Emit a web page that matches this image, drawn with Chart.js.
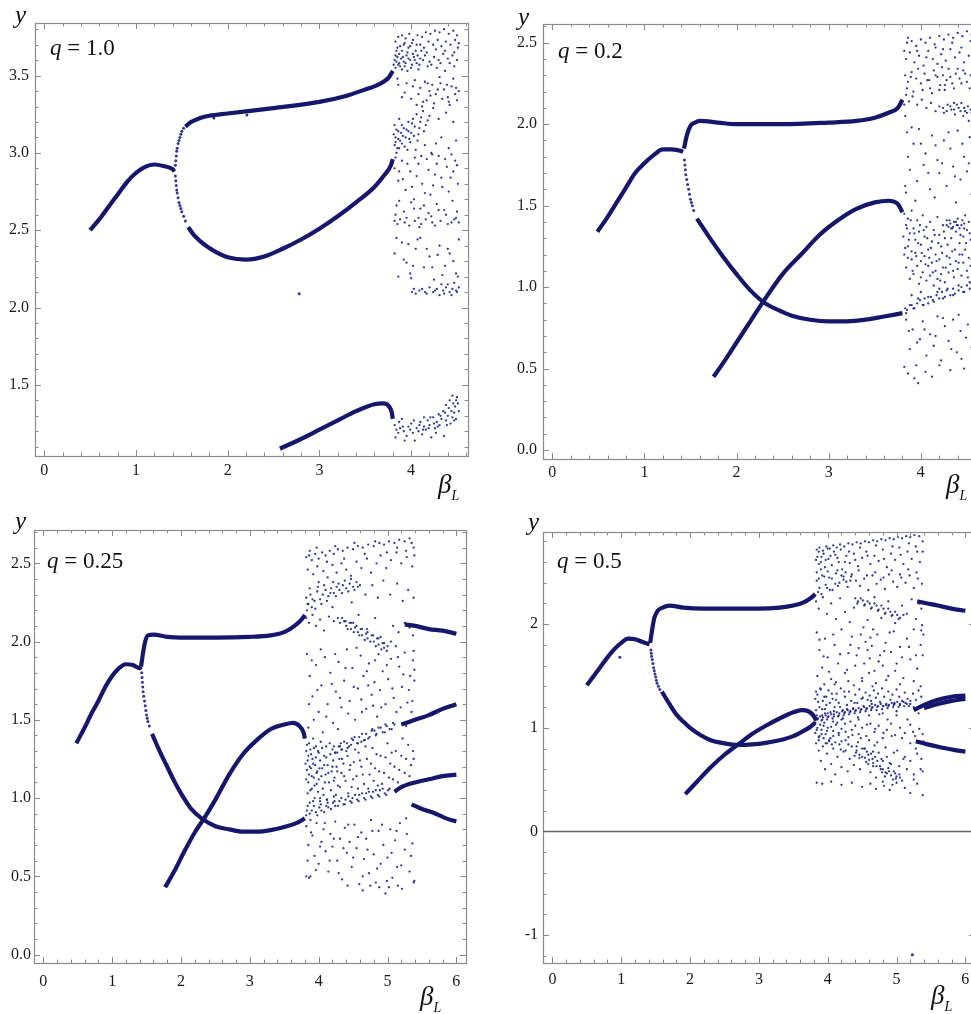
<!DOCTYPE html>
<html>
<head>
<meta charset="utf-8">
<script src="https://cdn.jsdelivr.net/npm/chart.js@4.4.1/dist/chart.umd.min.js"></script>
<style>
  body { margin: 0; width: 971px; height: 1014px; overflow: hidden; background: #fff; position: relative; }
  canvas { position: absolute; }
  .lbl { position: absolute; font-family: 'Liberation Serif', serif; color: #111; white-space: nowrap; line-height: 1; }
  .ax { font-style: italic; font-size: 25px; }
  .beta { font-style: italic; font-size: 27px; }
  .beta sub { font-size: 14px; position: relative; top: 1px; }
  .q { font-size: 23px; }
  .q i { font-style: italic; }
</style>
</head>
<body>
<canvas id="c1" width="490" height="500" style="left:0;top:0"></canvas>
<canvas id="c2" width="480" height="500" style="left:505px;top:0"></canvas>
<canvas id="c3" width="490" height="509" style="left:0;top:505px"></canvas>
<canvas id="c4" width="480" height="509" style="left:505px;top:505px"></canvas>

<div class="lbl ax" style="left:15px;top:2px">y</div>
<div class="lbl ax" style="left:518px;top:4px">y</div>
<div class="lbl ax" style="left:15px;top:508px">y</div>
<div class="lbl ax" style="left:528px;top:509px">y</div>

<div class="lbl beta" style="left:438px;top:471px">β<sub>L</sub></div>
<div class="lbl beta" style="left:946px;top:471px">β<sub>L</sub></div>
<div class="lbl beta" style="left:420px;top:983px">β<sub>L</sub></div>
<div class="lbl beta" style="left:931px;top:982px">β<sub>L</sub></div>

<div class="lbl q" style="left:50px;top:36px"><i>q</i> = 1.0</div>
<div class="lbl q" style="left:558px;top:39px"><i>q</i> = 0.2</div>
<div class="lbl q" style="left:47px;top:549px"><i>q</i> = 0.25</div>
<div class="lbl q" style="left:557px;top:549px"><i>q</i> = 0.5</div>

<script>
// ---------- q = 1.0 ----------
const q1Branch = [[0.5,2.5],[0.6,2.57],[0.7,2.65],[0.8,2.73],[0.9,2.81],[1.0,2.87],[1.1,2.91],[1.2,2.925],[1.3,2.915],[1.4,2.895],[1.42,2.88]];
const q1Upper = [[1.54,3.17],[1.6,3.2],[1.7,3.225],[1.8,3.24],[2.0,3.255],[2.5,3.29],[3.0,3.33],[3.3,3.37],[3.5,3.41],[3.6,3.43],[3.7,3.46],[3.76,3.49],[3.8,3.53]];
const q1Lower = [[1.57,2.52],[1.63,2.47],[1.7,2.43],[1.8,2.385],[1.9,2.35],[2.0,2.325],[2.2,2.31],[2.4,2.33],[2.6,2.38],[2.8,2.44],[3.0,2.51],[3.2,2.59],[3.4,2.68],[3.6,2.78],[3.7,2.85],[3.78,2.92],[3.8,2.96]];
const q1Bottom = [[2.57,1.087],[2.8,1.15],[3.0,1.21],[3.2,1.27],[3.4,1.33],[3.6,1.375],[3.7,1.38],[3.76,1.36],[3.79,1.32],[3.8,1.28]];
const q1Dots = [[1.43,2.92],[1.435,2.95],[1.44,2.98],[1.445,3.01],[1.45,3.03],[1.46,3.06],[1.47,3.08],[1.48,3.1],[1.49,3.12],[1.5,3.14],[1.52,3.16],
  [1.43,2.85],[1.435,2.82],[1.44,2.79],[1.445,2.76],[1.45,2.74],[1.46,2.71],[1.47,2.68],[1.48,2.66],[1.49,2.64],[1.5,2.62],[1.52,2.59],[1.54,2.56],
  [1.85,3.225],[2.21,3.245],[2.78,2.09]];
const q1Cloud = [[3.83,3.72],[3.86,3.75],[3.9,3.76],[3.94,3.74],[3.98,3.77],[4.02,3.73],[4.07,3.76],[4.12,3.75],[4.16,3.78],[4.21,3.77],[4.26,3.79],[4.31,3.78],[4.36,3.8],[4.41,3.77],[4.46,3.79],[4.5,3.76],
  [3.84,3.66],[3.88,3.69],[3.92,3.7],[3.97,3.68],[4.01,3.71],[4.05,3.66],[4.1,3.7],[4.14,3.68],[4.19,3.72],[4.24,3.7],[4.29,3.73],[4.33,3.69],[4.38,3.72],[4.43,3.7],[4.48,3.73],[4.51,3.68],
  [3.82,3.6],[3.85,3.62],[3.87,3.58],[3.89,3.61],[3.92,3.59],[3.95,3.63],[3.99,3.6],[4.03,3.62],[4.06,3.58],[4.1,3.61],[4.15,3.63],[4.2,3.59],[4.25,3.62],[4.3,3.6],[4.35,3.64],[4.4,3.61],[4.45,3.63],[4.5,3.6],
  [3.83,3.55],[3.86,3.57],[3.9,3.54],[3.93,3.56],[3.96,3.53],[4.0,3.55],[4.08,3.54],[4.18,3.56],[4.28,3.55],[4.37,3.53],[4.47,3.56],
  [3.85,3.48],[3.95,3.45],[4.04,3.47],[4.1,3.42],[4.15,3.46],[4.2,3.4],[4.23,3.44],[4.27,3.38],[4.32,3.45],[4.36,3.41],[4.4,3.36],[4.44,3.43],[4.48,3.38],[4.52,3.4],[3.9,3.36],[4.0,3.35],[4.13,3.33],[4.25,3.32],[4.34,3.35],[4.42,3.31],[4.5,3.34],
  [3.82,3.05],[3.83,3.1],[3.85,3.03],[3.86,3.14],[3.88,3.08],[3.9,3.18],[3.91,3.11],[3.93,3.04],[3.95,3.15],[3.97,3.2],[3.98,3.09],[4.0,3.13],[4.02,3.22],[4.04,3.17],[4.06,3.25],[4.08,3.12],[4.1,3.2],[4.13,3.27],[4.16,3.18],[4.2,3.24],[4.24,3.29],[4.3,3.22],[4.38,3.26],[4.46,3.2],[3.84,3.0],[3.87,3.22],[4.05,3.02],[4.27,3.06],[4.33,3.1],[4.41,3.03],[4.49,3.08],[4.22,3.0],[4.15,3.05],
  [3.82,2.9],[3.86,2.82],[3.9,2.95],[3.94,2.76],[3.99,2.88],[4.03,2.7],[4.08,2.93],[4.12,2.8],[4.17,2.96],[4.21,2.73],[4.26,2.86],[4.3,2.98],[4.34,2.78],[4.39,2.91],[4.43,2.84],[4.48,2.95],[4.51,2.8],[3.84,2.66],[3.92,2.62],[4.0,2.68],[4.1,2.64],[4.19,2.61],[4.28,2.67],[4.36,2.63],[4.45,2.69],[4.5,2.62],
  [3.82,2.56],[3.85,2.54],[3.88,2.57],[3.93,2.55],[3.98,2.53],[4.04,2.56],[4.11,2.54],[4.16,2.57],[4.23,2.55],[4.32,2.56],[4.4,2.54],[4.47,2.57],[4.52,2.55],
  [3.82,2.35],[3.86,2.2],[3.9,2.42],[3.95,2.29],[3.99,2.22],[4.05,2.38],[4.1,2.45],[4.14,2.26],[4.2,2.33],[4.25,2.18],[4.31,2.4],[4.37,2.27],[4.42,2.35],[4.49,2.22],[4.52,2.44],[4.0,2.19],
  [4.01,2.1],[4.05,2.09],[4.12,2.12],[4.17,2.09],[4.2,2.13],[4.24,2.1],[4.28,2.12],[4.31,2.08],[4.35,2.11],[4.38,2.13],[4.42,2.1],[4.45,2.12],[4.49,2.11],[4.52,2.13],[4.47,2.16],[4.33,2.15]];
const q1CloudB = [[3.81,3.57],[3.83,3.63],[3.84,3.59],[3.85,3.68],[3.87,3.64],[3.88,3.56],[3.9,3.66],[3.91,3.62],[3.93,3.71],[3.94,3.58],[3.96,3.65],[3.97,3.61],[3.99,3.69],[4.01,3.57],[4.02,3.64],[4.04,3.6],[4.06,3.7],[4.07,3.63],[4.09,3.57],[4.11,3.66],[4.13,3.6],[4.17,3.65],[4.22,3.57],[4.27,3.67],[4.32,3.58],[4.37,3.66],[4.42,3.58],[4.47,3.65],[4.52,3.71],
  [3.81,3.12],[3.82,3.18],[3.83,3.07],[3.84,3.15],[3.86,3.09],[3.87,3.03],[3.89,3.13],[3.9,3.06],[3.92,3.16],[3.94,3.1],[3.96,3.02],[3.97,3.14],[3.99,3.07],[4.01,3.19],[4.03,3.11],[4.07,3.08],[4.09,3.16],[4.11,3.23],[4.14,3.14],[4.18,3.21],[4.12,3.3],[4.17,3.34],
  [3.83,2.97],[3.87,2.88],[3.91,2.83],[3.96,2.93],[4.01,2.78],[4.06,2.85],[4.11,2.98],[4.15,2.74],[4.19,2.89],[4.24,2.79],[4.28,2.93],[4.33,2.84],[4.37,2.96],[4.41,2.75],[4.46,2.88],[4.5,2.92],[4.44,2.99],[4.23,2.99],[4.04,2.97],
  [3.83,2.6],[3.87,2.69],[3.95,2.58],[4.03,2.64],[4.08,2.58],[4.14,2.66],[4.22,2.59],[4.3,2.63],[4.38,2.6],[4.44,2.55],[4.49,2.58],[4.26,2.53],[4.09,2.52],
  [3.84,2.45],[3.92,2.31],[4.02,2.27],[4.07,2.44],[4.17,2.38],[4.23,2.26],[4.29,2.34],[4.34,2.21],[4.4,2.38],[4.46,2.3],[4.51,2.2],[3.97,2.41],
  [4.03,2.12],[4.09,2.11],[4.15,2.1],[4.26,2.11],[4.36,2.09],[4.4,2.15],[4.44,2.08],[4.5,2.1],
  [3.86,3.44],[3.93,3.39],[4.02,3.43],[4.08,3.38],[4.18,3.45],[4.21,3.37],[4.29,3.41],[4.31,3.49],[4.39,3.44],[4.46,3.48],[4.49,3.42],[4.41,3.33],[4.06,3.31]];
const q1CloudLow = [[3.82,1.24],[3.83,1.16],[3.86,1.19],[3.88,1.22],[3.9,1.28],[3.92,1.2],[3.95,1.17],[3.97,1.23],[4.0,1.25],[4.02,1.19],[4.04,1.14],[4.06,1.22],[4.08,1.2],[4.1,1.26],[4.12,1.18],[4.14,1.23],[4.16,1.21],[4.18,1.27],[4.2,1.24],[4.22,1.16],[4.24,1.29],[4.26,1.22],[4.28,1.26],[4.3,1.31],[4.31,1.24],[4.33,1.28],[4.35,1.33],[4.36,1.17],[4.38,1.27],[4.4,1.3],[4.41,1.35],[4.43,1.25],[4.45,1.29],[4.46,1.38],[4.47,1.32],[4.48,1.36],[4.49,1.28],[4.5,1.42],[4.45,1.43],[4.42,1.4],[4.38,1.37],[4.27,1.19],[4.14,1.29],[3.93,1.14],[4.52,1.33],
  [3.84,1.21],[3.87,1.26],[3.91,1.23],[3.99,1.21],[4.03,1.27],[4.09,1.24],[4.13,1.21],[4.19,1.22],[4.21,1.29],[4.25,1.25],[4.29,1.23],[4.32,1.3],[4.37,1.32],[4.39,1.24],[4.44,1.33],[4.47,1.27],[4.51,1.38],[4.49,1.4]];

// ---------- q = 0.2 ----------
const q2Branch = [[0.49,1.34],[0.6,1.43],[0.7,1.52],[0.8,1.61],[0.9,1.7],[1.0,1.76],[1.1,1.81],[1.2,1.845],[1.3,1.845],[1.4,1.835],[1.42,1.83]];
const q2Upper = [[1.43,1.85],[1.46,1.93],[1.5,1.99],[1.55,2.01],[1.6,2.02],[1.8,2.01],[2.0,2.0],[2.5,2.0],[3.0,2.01],[3.3,2.02],[3.5,2.04],[3.65,2.07],[3.75,2.1],[3.8,2.15]];
const q2Lower = [[1.57,1.42],[1.7,1.31],[1.85,1.19],[2.0,1.08],[2.15,0.98],[2.3,0.905],[2.45,0.86],[2.6,0.825],[2.8,0.8],[3.0,0.79],[3.2,0.79],[3.4,0.8],[3.6,0.82],[3.8,0.84]];
const q2Cross = [[1.75,0.45],[1.85,0.53],[2.0,0.66],[2.15,0.79],[2.3,0.92],[2.5,1.08],[2.7,1.2],[2.9,1.32],[3.1,1.41],[3.3,1.48],[3.5,1.52],[3.65,1.53],[3.75,1.51],[3.8,1.46]];
const q2Dots = [[1.435,1.78],[1.44,1.75],[1.445,1.72],[1.45,1.69],[1.46,1.66],[1.47,1.63],[1.48,1.6],[1.49,1.57],[1.5,1.54],[1.51,1.52],[1.52,1.5],[1.535,1.47]];
const q2Cloud = [[3.85,2.5],[3.9,2.51],[3.95,2.48],[4.0,2.52],[4.05,2.5],[4.1,2.53],[4.15,2.49],[4.2,2.54],[4.25,2.52],[4.3,2.55],[4.35,2.53],[4.4,2.56],[4.45,2.54],[4.5,2.57],[4.55,2.55],
  [3.84,2.4],[3.88,2.44],[3.93,2.38],[3.98,2.42],[4.03,2.36],[4.08,2.45],[4.13,2.4],[4.18,2.37],[4.22,2.43],[4.27,2.39],[4.32,2.46],[4.37,2.41],[4.42,2.44],[4.47,2.38],[4.52,2.42],[4.56,2.47],
  [3.83,2.3],[3.86,2.26],[3.9,2.32],[3.95,2.28],[4.0,2.25],[4.04,2.31],[4.09,2.27],[4.14,2.33],[4.18,2.29],[4.21,2.24],[4.24,2.3],[4.28,2.27],[4.3,2.34],[4.34,2.25],[4.38,2.31],[4.42,2.28],[4.46,2.33],[4.5,2.26],[4.54,2.3],[4.1,2.22],[4.26,2.21],
  [3.84,2.18],[3.87,2.14],[3.91,2.17],[3.96,2.12],[4.01,2.15],[4.06,2.1],[4.11,2.13],[4.16,2.08],[4.2,2.11],[4.25,2.07],[4.29,2.12],[4.33,2.09],[4.37,2.06],[4.41,2.1],[4.44,2.13],[4.48,2.08],[4.51,2.11],[4.55,2.07],[4.36,2.13],[4.46,2.05],[4.52,2.02],
  [3.85,1.95],[3.92,1.88],[3.98,1.97],[4.05,1.82],[4.12,1.93],[4.18,1.78],[4.25,1.9],[4.32,1.85],[4.4,1.96],[4.47,1.8],[4.53,1.92],[3.88,1.72],[3.96,1.65],[4.03,1.75],[4.1,1.6],[4.2,1.7],[4.28,1.62],[4.35,1.74],[4.43,1.66],[4.5,1.71],[3.84,1.58],[3.94,1.53],[4.15,1.55],[4.38,1.52],[4.55,1.57],[3.83,1.62],
  [3.82,1.45],[3.84,1.38],[3.86,1.42],[3.88,1.33],[3.9,1.47],[3.92,1.36],[3.94,1.29],[3.96,1.41],[3.98,1.34],[4.0,1.26],[4.02,1.44],[4.04,1.31],[4.06,1.37],[4.08,1.23],[4.1,1.4],[4.12,1.28],[4.14,1.35],[4.16,1.2],[4.18,1.43],[4.2,1.32],[4.22,1.25],[4.24,1.38],[4.26,1.3],[4.28,1.41],[4.3,1.37],[4.32,1.39],[4.34,1.36],[4.36,1.4],[4.38,1.34],[4.4,1.42],[4.42,1.27],[4.44,1.38],[4.46,1.31],[4.48,1.44],[4.5,1.35],[4.52,1.4],[4.54,1.29],[4.56,1.37],
  [3.82,1.2],[3.84,1.12],[3.86,1.25],[3.88,1.05],[3.9,1.17],[3.92,1.08],[3.94,1.21],[3.96,1.13],[3.98,1.02],[4.0,1.16],[4.02,1.09],[4.04,1.19],[4.06,1.04],[4.08,1.13],[4.1,1.07],[4.12,1.15],[4.14,1.01],[4.16,1.1],[4.18,1.05],[4.2,1.17],[4.22,1.08],[4.24,1.12],[4.26,1.03],[4.28,1.19],[4.3,1.09],[4.32,1.14],[4.34,1.22],[4.36,1.06],[4.38,1.16],[4.4,1.11],[4.42,1.2],[4.44,1.07],[4.46,1.15],[4.48,1.23],[4.5,1.1],[4.52,1.18],[4.54,1.13],[4.56,1.21],
  [3.83,0.87],[3.85,0.86],[3.9,0.89],[3.92,0.87],[3.96,0.9],[3.99,0.92],[4.02,0.89],[4.04,0.93],[4.08,0.9],[4.11,0.94],[4.13,0.92],[4.17,0.95],[4.2,0.93],[4.23,0.97],[4.26,0.94],[4.28,0.98],[4.32,0.95],[4.35,0.99],[4.37,0.96],[4.41,0.98],[4.44,1.0],[4.46,0.97],[4.5,1.01],[4.53,0.99],[4.55,1.02],
  [3.84,0.8],[3.88,0.62],[3.91,0.74],[3.95,0.52],[3.99,0.68],[4.02,0.79],[4.06,0.58],[4.1,0.71],[4.14,0.64],[4.18,0.82],[4.22,0.55],[4.26,0.76],[4.3,0.67],[4.35,0.8],[4.39,0.6],[4.43,0.73],[4.47,0.5],[4.51,0.77],[4.55,0.63],[3.82,0.51],[3.86,0.47],[3.93,0.44],[3.97,0.41],[4.05,0.48],[4.2,0.52],[4.32,0.49],[4.44,0.56],[4.12,0.45]];
const q2CloudB = [[3.81,1.31],[3.83,1.24],[3.85,1.36],[3.86,1.18],[3.87,1.29],[3.89,1.41],[3.9,1.22],[3.91,1.1],[3.93,1.33],[3.95,1.19],[3.97,1.27],[3.99,1.38],[4.0,1.06],[4.01,1.21],[4.03,1.35],[4.05,1.14],[4.07,1.3],[4.09,1.18],[4.11,1.24],[4.13,1.09],[4.15,1.32],[4.17,1.16],[4.19,1.27],[4.21,1.04],[4.23,1.21],[4.25,1.34],[4.27,1.12],[4.29,1.26],[4.31,1.18],[4.33,1.3],[4.35,1.1],[4.37,1.23],[4.39,1.38],[4.41,1.15],[4.43,1.32],[4.45,1.2],[4.47,1.36],[4.49,1.27],[4.51,1.06],[4.53,1.33],[4.55,1.17],[4.57,1.41],
  [4.28,1.38],[4.31,1.41],[4.35,1.37],[4.38,1.4],[4.4,1.38],[4.42,1.36],[4.45,1.41],[4.47,1.39],[4.33,1.36],
  [3.84,0.84],[3.88,0.89],[3.93,0.87],[3.97,0.93],[4.03,0.89],[4.08,0.94],[4.14,0.91],[4.18,0.97],[4.24,0.93],[4.29,0.99],[4.35,0.95],[4.41,1.01],[4.47,0.97],[4.53,1.03],[4.56,0.98],[3.9,0.95],[4.0,0.97],[4.2,0.99],
  [3.85,2.22],[3.89,2.29],[3.92,2.2],[3.97,2.34],[4.02,2.21],[4.07,2.27],[4.12,2.19],[4.16,2.3],[4.2,2.21],[4.23,2.35],[4.26,2.24],[4.32,2.29],[4.36,2.22],[4.4,2.34],[4.44,2.25],[4.48,2.31],[4.53,2.22],[4.56,2.35],
  [4.24,2.1],[4.28,2.08],[4.32,2.11],[4.36,2.09],[4.39,2.12],[4.43,2.08],[4.47,2.1],[4.5,2.07],[4.54,2.09],[4.57,2.11],
  [3.82,2.45],[3.86,2.53],[3.96,2.45],[4.06,2.41],[4.16,2.47],[4.24,2.46],[4.34,2.5],[4.44,2.47],[4.54,2.51],[3.82,2.12],[3.83,2.05],
  [3.86,1.8],[3.9,1.98],[4.0,1.88],[4.08,1.7],[4.16,1.87],[4.23,1.76],[4.3,1.95],[4.37,1.68],[4.45,1.88],[4.52,1.76],[4.56,1.84],
  [3.87,0.73],[3.96,0.66],[4.04,0.74],[4.16,0.7],[4.24,0.81],[4.33,0.62],[4.41,0.83],[4.49,0.69],[4.56,0.78]];

// ---------- q = 0.25 ----------
const q3Branch = [[0.48,1.35],[0.6,1.45],[0.7,1.54],[0.8,1.62],[0.9,1.71],[1.0,1.78],[1.1,1.83],[1.2,1.855],[1.3,1.85],[1.4,1.83],[1.42,1.84]];
const q3Upper = [[1.42,1.84],[1.45,1.93],[1.48,2.0],[1.52,2.04],[1.6,2.045],[1.8,2.03],[2.0,2.025],[2.5,2.025],[3.0,2.03],[3.3,2.04],[3.5,2.06],[3.65,2.1],[3.75,2.14],[3.8,2.17]];
const q3Lower = [[1.58,1.41],[1.7,1.29],[1.8,1.2],[1.9,1.11],[2.0,1.03],[2.15,0.93],[2.3,0.87],[2.5,0.82],[2.7,0.8],[2.9,0.785],[3.1,0.785],[3.3,0.795],[3.5,0.815],[3.7,0.845],[3.8,0.87]];
const q3Cross = [[1.77,0.43],[1.9,0.53],[2.05,0.66],[2.2,0.78],[2.35,0.88],[2.5,0.99],[2.7,1.15],[2.9,1.28],[3.1,1.37],[3.3,1.44],[3.5,1.47],[3.63,1.48],[3.72,1.46],[3.78,1.42],[3.8,1.38]];
const q3Right1 = [[5.25,2.11],[5.4,2.1],[5.6,2.08],[5.8,2.07],[6.0,2.05]];
const q3Right2 = [[5.2,1.47],[5.4,1.5],[5.6,1.53],[5.8,1.57],[6.0,1.6]];
const q3Right3 = [[5.1,1.04],[5.2,1.07],[5.4,1.1],[5.6,1.12],[5.8,1.14],[6.0,1.15]];
const q3Right4 = [[5.35,0.96],[5.5,0.93],[5.7,0.9],[5.85,0.87],[6.0,0.85]];
const q3Dots = [[1.43,1.8],[1.435,1.77],[1.44,1.74],[1.445,1.71],[1.45,1.68],[1.46,1.65],[1.47,1.62],[1.48,1.59],[1.49,1.56],[1.5,1.53],[1.51,1.51],[1.52,1.49],[1.54,1.46]];
const q3Cloud = [[3.82,2.54],[3.86,2.55],[3.9,2.52],[3.95,2.56],[4.0,2.53],[4.05,2.57],[4.1,2.55],[4.16,2.58],[4.22,2.56],[4.28,2.59],[4.35,2.58],[4.42,2.6],[4.5,2.59],[4.57,2.61],[4.64,2.6],[4.72,2.62],[4.8,2.61],[4.88,2.63],[4.95,2.62],[5.02,2.64],[5.1,2.63],[5.17,2.65],[5.25,2.64],[5.32,2.66],[5.38,2.6],
  [3.84,2.46],[3.92,2.43],[3.98,2.48],[4.07,2.45],[4.13,2.41],[4.2,2.49],[4.26,2.44],[4.33,2.5],[4.4,2.46],[4.47,2.42],[4.55,2.51],[4.62,2.47],[4.7,2.53],[4.76,2.44],[4.84,2.5],[4.9,2.55],[4.98,2.47],[5.05,2.52],[5.13,2.57],[5.2,2.5],[5.28,2.54],[5.36,2.48],
  [3.82,2.28],[3.83,2.2],[3.85,2.24],[3.88,2.3],[3.9,2.22],[3.94,2.26],[3.98,2.32],[4.02,2.27],[4.06,2.3],[4.1,2.33],[4.14,2.29],[4.18,2.34],[4.22,2.31],[4.26,2.35],[4.3,2.33],[4.35,2.36],[4.4,2.34],[4.45,2.37],[4.5,2.35],[4.55,2.38],[4.6,2.36],[4.68,2.3],[4.78,2.36],[4.86,2.28],[4.94,2.39],[5.04,2.3],[5.14,2.37],[5.22,2.26],[5.3,2.33],[5.38,2.28],[4.0,2.38],[4.2,2.22],[4.48,2.25],
  [3.82,2.15],[3.86,2.12],[3.91,2.17],[3.96,2.1],[4.02,2.14],[4.08,2.07],[4.15,2.16],[4.22,2.13],[4.28,2.15],[4.31,2.12],[4.37,2.13],[4.4,2.1],[4.45,2.12],[4.47,2.08],[4.53,2.09],[4.57,2.06],[4.61,2.08],[4.63,2.04],[4.69,2.05],[4.71,2.02],[4.77,2.04],[4.8,2.0],[4.85,2.02],[4.87,1.98],[4.93,1.99],[4.95,1.96],[5.0,1.97],[4.5,2.12],[4.7,2.08],[4.9,2.03],[5.08,2.1],[5.16,2.06],[5.25,2.12],[5.32,2.09],[5.37,2.04],[4.58,2.17],[4.82,2.15],[5.05,2.0],
  [3.83,1.92],[3.87,1.78],[3.91,1.65],[3.96,1.85],[4.0,1.55],[4.04,1.72],[4.09,1.9],[4.13,1.6],[4.17,1.8],[4.21,1.48],[4.25,1.68],[4.29,1.87],[4.33,1.58],[4.37,1.75],[4.41,1.95],[4.45,1.62],[4.49,1.83],[4.53,1.5],[4.57,1.7],[4.61,1.91],[4.65,1.78],[4.69,1.57],[4.73,1.86],[4.77,1.66],[4.81,1.74],[4.85,1.52],[4.89,1.69],[4.93,1.81],[4.97,1.6],[5.01,1.76],[5.05,1.89],[5.09,1.64],[5.13,1.55],[5.17,1.84],[5.21,1.71],[5.25,1.93],[5.29,1.61],[5.33,1.78],[5.37,1.88],[5.39,1.82],[5.38,1.94],[5.39,1.75],[3.85,1.45],[3.93,1.5],[4.06,1.42],[4.28,1.44],[4.62,1.63],[4.72,1.72],[4.82,1.88],[5.12,1.97],[5.27,1.46],[5.35,1.55],
  [4.2,1.31],[4.24,1.29],[4.31,1.33],[4.34,1.31],[4.41,1.35],[4.44,1.33],[4.5,1.37],[4.56,1.35],[4.59,1.39],[4.66,1.37],[4.69,1.41],[4.74,1.39],[4.81,1.43],[4.84,1.41],[4.9,1.45],[4.96,1.42],[4.99,1.46],[5.06,1.44],[5.1,1.47],[4.32,1.35],[4.48,1.38],[4.62,1.36],[4.78,1.44],
  [3.82,1.3],[3.83,1.18],[3.84,1.24],[3.85,1.1],[3.86,1.35],[3.87,1.2],[3.88,1.05],[3.89,1.28],[3.9,1.14],[3.92,1.22],[3.93,1.32],[3.94,1.08],[3.96,1.26],[3.97,1.16],[3.99,1.3],[4.0,1.12],[4.02,1.24],[4.03,1.36],[4.05,1.19],[4.06,1.06],[4.08,1.27],[4.1,1.15],[4.11,1.33],[4.13,1.21],[4.15,1.1],[4.17,1.28],[4.19,1.17],[4.21,1.24],[4.23,1.13],[4.26,1.2],[4.28,1.08],[4.3,1.25],[4.33,1.16],[4.36,1.22],[4.39,1.11],[4.42,1.27],[4.45,1.18],[4.48,1.07],[4.51,1.23],[4.55,1.14],[4.58,1.29],[4.62,1.2],[4.66,1.09],[4.7,1.25],[4.74,1.15],[4.78,1.32],[4.82,1.19],[4.86,1.08],[4.9,1.27],[4.95,1.16],[5.0,1.35],[5.04,1.22],[5.08,1.12],[5.12,1.3],[5.17,1.18],[5.22,1.38],[5.27,1.25],[5.32,1.14],[5.37,1.3],[5.39,1.1],
  [3.82,0.89],[3.87,0.9],[3.9,0.92],[3.96,0.91],[4.01,0.94],[4.04,0.92],[4.11,0.95],[4.14,0.94],[4.21,0.97],[4.24,0.95],[4.3,0.98],[4.36,0.96],[4.39,0.99],[4.46,0.98],[4.49,1.0],[4.56,0.99],[4.59,1.02],[4.66,1.0],[4.69,1.03],[4.76,1.01],[4.79,1.04],[4.86,1.02],[4.89,1.05],[4.96,1.03],[5.01,1.05],[3.84,0.95],[3.92,0.98],[4.02,1.0],[4.12,0.99],[4.22,1.01],
  [3.82,0.82],[3.85,0.7],[3.88,0.5],[3.91,0.76],[3.94,0.63],[3.97,0.84],[4.0,0.58],[4.04,0.72],[4.07,0.8],[4.1,0.66],[4.14,0.53],[4.17,0.77],[4.2,0.69],[4.24,0.85],[4.27,0.6],[4.31,0.74],[4.34,0.48],[4.38,0.81],[4.41,0.65],[4.45,0.72],[4.48,0.56],[4.52,0.83],[4.55,0.68],[4.59,0.45],[4.62,0.78],[4.66,0.61],[4.69,0.74],[4.73,0.52],[4.76,0.86],[4.8,0.64],[4.83,0.46],[4.87,0.79],[4.9,0.58],[4.94,0.7],[4.97,0.39],[5.0,0.62],[5.04,0.8],[5.07,0.49],[5.11,0.73],[5.14,0.56],[5.18,0.84],[5.21,0.42],[5.25,0.67],[5.28,0.77],[5.32,0.53],[5.36,0.71],[5.39,0.47],[5.38,0.46],[4.42,0.44],[4.64,0.41],[4.88,0.43],[5.15,0.44],[3.82,0.5],[3.86,0.49]];
const q3CloudB = [[3.81,1.22],[3.82,1.12],[3.83,1.34],[3.84,1.03],[3.85,1.27],[3.86,1.15],[3.87,0.97],[3.88,1.31],[3.89,1.19],[3.9,1.06],[3.91,1.25],[3.92,1.38],[3.93,1.13],[3.94,1.0],[3.95,1.21],[3.96,1.33],[3.97,1.09],[3.98,1.17],[3.99,1.04],[4.0,1.29],[4.01,1.19],[4.02,0.98],[4.04,1.14],[4.05,1.32],[4.07,1.02],[4.08,1.21],[4.09,1.1],[4.11,1.26],[4.12,0.99],[4.14,1.16],[4.16,1.35],[4.18,1.05],[4.2,1.2],[4.22,1.11],[4.24,1.29],[4.25,1.02],[4.27,1.17],[4.29,1.33],[4.31,1.07],[4.34,1.25],[4.37,1.14],[4.4,1.3],[4.43,1.03],[4.46,1.21],[4.5,1.12],[4.53,1.31],[4.57,1.06],[4.6,1.24],[4.64,1.15],[4.68,1.33],[4.72,1.06],[4.76,1.22],[4.8,1.11],[4.84,1.28],[4.88,1.17],[4.92,1.09],[4.97,1.26],[5.02,1.13],[5.06,1.29],[5.1,1.2],[5.15,1.1],[5.2,1.27],[5.25,1.16],[5.3,1.34],[5.34,1.21],[5.38,1.25],
  [3.83,0.92],[3.88,0.86],[3.93,0.95],[3.98,0.89],[4.03,0.96],[4.08,0.91],[4.13,0.97],[4.18,0.93],[4.23,0.98],[4.28,0.95],[4.33,1.0],[4.38,0.96],[4.43,1.01],[4.48,0.97],[4.53,1.02],[4.58,0.98],[4.63,1.03],[4.68,0.99],[4.73,1.04],[4.78,1.0],[4.83,1.05],[4.88,1.01],[4.93,1.06],[4.98,1.02],[5.03,1.06],
  [4.22,1.33],[4.27,1.29],[4.33,1.31],[4.37,1.36],[4.42,1.32],[4.47,1.34],[4.52,1.39],[4.57,1.35],[4.63,1.41],[4.67,1.37],[4.72,1.38],[4.77,1.43],[4.83,1.4],[4.87,1.45],[4.93,1.42],[4.97,1.47],[5.03,1.44],[5.08,1.48],
  [3.84,2.24],[3.87,2.34],[3.91,2.27],[3.95,2.21],[3.99,2.35],[4.04,2.24],[4.08,2.36],[4.12,2.26],[4.17,2.31],[4.21,2.38],[4.25,2.29],[4.29,2.37],[4.34,2.31],[4.38,2.39],[4.43,2.32],[4.47,2.4],[4.52,2.33],[4.57,2.35],
  [4.34,2.15],[4.39,2.13],[4.42,2.08],[4.47,2.12],[4.51,2.06],[4.55,2.1],[4.59,2.04],[4.63,2.08],[4.67,2.01],[4.71,2.06],[4.75,2.0],[4.79,2.04],[4.83,1.97],[4.87,2.02],[4.91,1.95],[4.95,1.99],[4.99,1.94],
  [3.86,1.6],[3.9,1.88],[3.98,1.69],[4.03,1.95],[4.11,1.52],[4.19,1.73],[4.24,1.92],[4.31,1.64],[4.39,1.83],[4.43,1.54],[4.51,1.71],[4.55,1.96],[4.63,1.55],[4.7,1.81],[4.79,1.59],[4.87,1.92],[4.91,1.58],[4.99,1.85],[5.07,1.7],[5.15,1.9],[5.19,1.58],[5.23,1.79],[5.31,1.69],[5.36,1.62],
  [3.84,0.6],[3.89,0.78],[3.96,0.54],[4.02,0.69],[4.09,0.84],[4.16,0.6],[4.22,0.74],[4.29,0.52],[4.36,0.68],[4.43,0.83],[4.5,0.62],[4.57,0.75],[4.64,0.5],[4.71,0.67],[4.78,0.79],[4.85,0.55],[4.92,0.83],[4.99,0.47],[5.06,0.65],[5.13,0.79],[5.2,0.57],[5.27,0.87],[5.34,0.63],[5.02,0.43],[4.75,0.44],
  [3.87,2.58],[3.97,2.6],[4.12,2.51],[4.24,2.61],[4.37,2.53],[4.52,2.63],[4.67,2.56],[4.82,2.64],[4.99,2.57],[5.14,2.6],[5.27,2.58],[5.35,2.63],[5.39,2.55]];

// ---------- q = 0.5 ----------
const q4Branch = [[0.5,1.41],[0.6,1.5],[0.7,1.59],[0.8,1.68],[0.9,1.76],[1.0,1.82],[1.1,1.86],[1.2,1.855],[1.3,1.83],[1.41,1.805]];
const q4Upper = [[1.42,1.82],[1.45,1.95],[1.48,2.06],[1.53,2.13],[1.6,2.16],[1.7,2.18],[1.9,2.16],[2.2,2.15],[2.6,2.15],[3.0,2.15],[3.3,2.16],[3.5,2.18],[3.65,2.21],[3.75,2.25],[3.82,2.29]];
const q4Lower = [[1.59,1.35],[1.7,1.23],[1.8,1.13],[1.9,1.06],[2.0,1.0],[2.15,0.93],[2.3,0.88],[2.5,0.85],[2.7,0.835],[2.9,0.84],[3.1,0.855],[3.3,0.88],[3.5,0.92],[3.65,0.97],[3.75,1.01],[3.82,1.05]];
const q4Cross = [[1.93,0.36],[2.1,0.48],[2.3,0.62],[2.5,0.74],[2.7,0.84],[2.9,0.94],[3.1,1.02],[3.3,1.09],[3.5,1.15],[3.62,1.17],[3.72,1.16],[3.8,1.11],[3.83,1.07]];
const q4Right1 = [[5.3,2.22],[5.45,2.2],[5.6,2.18],[5.8,2.15],[6.0,2.13]];
const q4Right2 = [[5.25,1.17],[5.4,1.22],[5.6,1.27],[5.8,1.3],[6.0,1.31]];
const q4Right3 = [[5.4,1.19],[5.6,1.23],[5.8,1.26],[6.0,1.28]];
const q4Right4 = [[5.28,0.87],[5.45,0.84],[5.65,0.81],[5.85,0.785],[6.0,0.77]];
const q4Dots = [[1.43,1.75],[1.435,1.72],[1.44,1.69],[1.45,1.66],[1.46,1.62],[1.47,1.58],[1.48,1.55],[1.49,1.52],[1.5,1.49],[1.51,1.46],[1.52,1.43],[1.54,1.4],[1.56,1.37],[0.98,1.68],[5.23,-1.19]];
const q4Cloud = [[3.84,2.72],[3.88,2.74],[3.93,2.71],[3.98,2.75],[4.03,2.73],[4.08,2.76],[4.13,2.74],[4.18,2.77],[4.24,2.75],[4.3,2.78],[4.36,2.77],[4.42,2.79],[4.48,2.78],[4.54,2.8],[4.6,2.79],[4.66,2.81],[4.72,2.8],[4.78,2.82],[4.84,2.81],[4.9,2.83],[4.96,2.82],[5.02,2.84],[5.08,2.83],[5.14,2.85],[5.2,2.84],[5.26,2.86],[5.33,2.85],[5.38,2.8],
  [3.83,2.62],[3.87,2.58],[3.91,2.65],[3.96,2.55],[4.01,2.63],[4.06,2.57],[4.11,2.67],[4.16,2.6],[4.21,2.53],[4.27,2.66],[4.32,2.59],[4.38,2.68],[4.44,2.56],[4.5,2.64],[4.56,2.7],[4.62,2.58],[4.68,2.66],[4.74,2.61],[4.8,2.72],[4.86,2.55],[4.92,2.68],[4.98,2.62],[5.04,2.74],[5.1,2.58],[5.16,2.7],[5.22,2.63],[5.28,2.75],[5.34,2.6],[5.38,2.7],
  [3.84,2.42],[3.88,2.35],[3.92,2.47],[3.97,2.38],[4.02,2.45],[4.07,2.33],[4.12,2.49],[4.17,2.4],[4.23,2.46],[4.29,2.36],[4.35,2.48],[4.41,2.42],[4.47,2.37],[4.53,2.44],[4.59,2.33],[4.65,2.47],[4.71,2.39],[4.77,2.43],[4.83,2.34],[4.89,2.48],[4.95,2.41],[5.01,2.36],[5.07,2.45],[5.13,2.4],[5.19,2.47],[5.25,2.35],[5.31,2.44],[5.37,2.39],
  [3.86,2.31],[3.91,2.29],[3.99,2.35],[4.03,2.33],[4.11,2.39],[4.15,2.37],[4.23,2.43],[4.27,2.41],[4.34,2.46],
  [4.4,2.25],[4.44,2.22],[4.51,2.23],[4.54,2.19],[4.61,2.2],[4.64,2.16],[4.71,2.18],[4.74,2.14],[4.81,2.15],[4.84,2.11],[4.91,2.12],[4.94,2.09],[5.01,2.09],[5.05,2.06],
  [3.83,2.22],[3.87,2.15],[3.93,2.26],[3.99,2.1],[4.05,2.2],[4.12,2.05],[4.18,2.25],[4.25,2.12],[4.32,2.02],[4.38,2.16],[4.58,2.04],[4.68,2.26],[4.78,2.06],[4.88,2.22],[4.98,2.01],[5.08,2.18],[5.15,2.1],[5.22,2.24],[5.28,2.05],[5.33,2.2],[5.37,1.99],[5.36,2.15],
  [3.84,1.92],[3.88,1.75],[3.92,1.58],[3.96,1.86],[4.0,1.68],[4.05,1.47],[4.1,1.8],[4.15,1.62],[4.2,1.95],[4.25,1.53],[4.3,1.72],[4.35,1.88],[4.4,1.6],[4.45,1.77],[4.5,1.45],[4.55,1.83],[4.58,1.75],[4.61,1.67],[4.64,1.79],[4.68,1.55],[4.72,1.9],[4.76,1.7],[4.8,1.6],[4.84,1.82],[4.88,1.5],[4.92,1.73],[4.96,1.93],[5.0,1.62],[5.05,1.78],[5.1,1.48],[5.15,1.86],[5.2,1.66],[5.25,1.95],[5.3,1.57],[5.35,1.8],[5.38,1.7],[5.39,1.9],[3.85,1.5],[3.95,1.42],[4.12,1.44],[4.38,1.41],[4.7,1.43],[4.52,1.97],[4.62,1.87],
  [3.83,1.35],[3.86,1.25],[3.89,1.38],[3.92,1.18],[3.95,1.3],[3.98,1.22],[4.01,1.36],[4.04,1.15],[4.07,1.28],[4.1,1.2],[4.13,1.33],[4.16,1.24],[4.19,1.38],[4.22,1.17],[4.25,1.3],[4.28,1.22],[4.31,1.35],[4.34,1.26],[4.37,1.19],[4.4,1.32],[4.43,1.24],[4.46,1.37],[4.49,1.28],[4.52,1.21],[4.55,1.34],[4.58,1.27],[4.61,1.31],[4.64,1.23],[4.67,1.36],[4.7,1.29],[4.73,1.33],[4.76,1.25],[4.79,1.38],[4.82,1.3],[4.85,1.22],[4.88,1.35],[4.91,1.27],[4.94,1.32],[4.97,1.24],[5.0,1.37],[5.04,1.3],[5.08,1.26],[5.12,1.34],[5.16,1.28],[5.2,1.23],[5.24,1.33],[5.28,1.27],[5.32,1.36],[5.36,1.3],
  [3.82,1.05],[3.85,1.08],[3.91,1.07],[3.93,1.1],[3.99,1.08],[4.01,1.11],[4.07,1.09],[4.09,1.13],[4.15,1.11],[4.17,1.14],[4.23,1.12],[4.25,1.15],[4.31,1.13],[4.33,1.16],[4.39,1.14],[4.41,1.17],[4.47,1.15],[4.49,1.18],[4.55,1.16],[4.57,1.19],[4.63,1.17],[4.65,1.2],[4.71,1.17],[4.73,1.21],[4.79,1.18],[4.81,1.21],[4.87,1.19],[4.89,1.22],[4.95,1.2],[4.97,1.23],[5.03,1.2],[5.05,1.23],[5.11,1.21],[5.13,1.24],[5.18,1.21],[3.84,1.12],[3.96,1.14],[4.08,1.06],[4.2,1.08],[4.44,1.1],[4.6,1.12],[4.8,1.14],[5.0,1.16],
  [3.82,0.95],[3.85,1.0],[3.88,0.92],[3.91,0.98],[3.94,1.02],[3.97,0.94],[4.0,1.0],[4.04,0.9],[4.08,0.97],[4.12,1.03],[4.16,0.93],[4.2,0.99],[4.25,1.04],[4.3,0.91],[4.35,0.98],[4.4,1.02],[4.45,0.94],[4.5,1.0],[4.56,0.92],[4.62,1.04],[4.68,0.96],[4.74,1.02],[4.8,0.9],[4.86,0.98],[4.92,1.04],[4.98,0.93],[5.05,1.0],[5.12,0.95],[5.2,1.03],[5.27,0.92],[5.33,0.99],[5.38,0.94],
  [3.83,0.85],[3.87,0.78],[3.9,0.68],[3.93,0.82],[3.96,0.6],[3.99,0.75],[4.02,0.87],[4.05,0.65],[4.08,0.8],[4.11,0.55],[4.14,0.72],[4.17,0.84],[4.2,0.62],[4.23,0.77],[4.26,0.88],[4.29,0.58],[4.32,0.7],[4.35,0.82],[4.38,0.64],[4.41,0.76],[4.44,0.86],[4.47,0.6],[4.5,0.72],[4.53,0.8],[4.56,0.67],[4.59,0.74],[4.62,0.57],[4.65,0.7],[4.68,0.83],[4.71,0.63],[4.74,0.76],[4.77,0.6],[4.8,0.68],[4.83,0.53],[4.86,0.72],[4.89,0.58],[4.92,0.65],[4.95,0.5],[4.98,0.56],[5.01,0.78],[5.05,0.52],[5.1,0.7],[5.15,0.6],[5.2,0.85],[5.25,0.55],[5.3,0.75],[5.35,0.6],[5.38,0.58],
  [3.87,0.91],[3.99,0.85],[4.06,0.84],[4.19,0.79],[4.26,0.78],[4.39,0.73],[4.46,0.71],[4.59,0.65],[4.66,0.63],[4.79,0.57],[4.86,0.56],[4.99,0.51],
  [3.84,0.47],[3.92,0.46],[4.05,0.48],[4.2,0.45],[4.35,0.47],[4.5,0.43],[4.62,0.46],[4.7,0.41],[4.82,0.44],[4.9,0.4],[5.0,0.47],[5.12,0.42],[5.2,0.37],[5.3,0.46],[5.38,0.35],[5.25,0.5]];
const q4CloudB = [[3.82,1.28],[3.83,1.17],[3.84,0.98],[3.85,1.32],[3.86,1.09],[3.87,0.88],[3.88,1.2],[3.89,1.03],[3.9,1.37],[3.91,0.94],[3.92,1.12],[3.93,1.26],[3.94,0.9],[3.95,1.05],[3.96,1.18],[3.97,0.85],[3.98,1.3],[3.99,0.97],[4.0,1.14],[4.02,0.88],[4.03,1.24],[4.05,1.01],[4.06,1.33],[4.08,0.92],[4.09,1.16],[4.11,0.86],[4.12,1.27],[4.14,1.05],[4.16,0.95],[4.18,1.2],[4.2,0.87],[4.22,1.09],[4.24,1.35],[4.26,0.96],[4.28,1.18],[4.3,0.84],[4.33,1.06],[4.36,0.93],[4.39,1.24],[4.42,0.82],[4.45,1.08],[4.48,0.9],[4.51,1.29],[4.54,0.8],[4.57,1.03],[4.6,0.88],[4.63,1.26],[4.66,0.77],[4.69,0.99],[4.72,0.86],[4.75,1.13],[4.78,0.7],[4.81,0.95],[4.84,0.81],[4.87,1.08],[4.9,0.66],[4.93,0.92],[4.96,0.76],[5.0,1.12],[5.04,0.63],[5.08,0.9],[5.12,0.72],[5.16,1.08],[5.2,0.68],[5.24,0.96],[5.28,0.8],[5.32,1.14],[5.36,0.7],[5.39,0.87],
  [3.84,1.09],[3.89,1.11],[3.92,1.08],[3.97,1.12],[4.0,1.1],[4.05,1.13],[4.09,1.11],[4.13,1.15],[4.16,1.12],[4.21,1.16],[4.24,1.14],[4.29,1.17],[4.32,1.15],[4.37,1.18],[4.4,1.16],[4.45,1.19],[4.48,1.17],[4.53,1.2],[4.56,1.18],[4.61,1.21],[4.64,1.19],[4.69,1.22],[4.72,1.2],[4.77,1.23],[4.8,1.21],[4.85,1.23],[4.88,1.21],[4.93,1.24],[4.96,1.22],[5.01,1.25],[5.05,1.22],[5.1,1.25],[5.15,1.23],[5.2,1.26],[5.25,1.2],[5.3,1.19],
  [4.42,0.78],[4.46,0.74],[4.5,0.8],[4.54,0.71],[4.57,0.77],[4.6,0.69],[4.63,0.75],[4.66,0.66],[4.69,0.72],[4.72,0.68],[4.76,0.63],[4.8,0.6],[4.84,0.57],[4.88,0.61],[4.92,0.54],[4.96,0.58],[5.0,0.53],[5.04,0.55],[5.08,0.49],[4.7,0.52],[4.8,0.48],[4.94,0.45],
  [3.85,2.65],[3.87,2.7],[3.9,2.6],[3.94,2.68],[3.97,2.62],[4.0,2.73],[4.04,2.66],[4.09,2.7],[4.14,2.64],[4.19,2.72],[4.25,2.6],[4.31,2.7],[4.4,2.62],[4.47,2.74],[4.58,2.66],[4.7,2.76],[4.82,2.63],[4.94,2.75],[5.06,2.67],[5.18,2.78],[5.3,2.7],
  [3.84,2.5],[3.87,2.44],[3.9,2.53],[3.95,2.46],[4.0,2.51],[4.06,2.44],[4.14,2.52],[4.2,2.47],[4.26,2.5],[4.33,2.42],[4.45,2.52],[4.57,2.47],[4.69,2.5],[4.81,2.45],[4.93,2.52],[5.05,2.48],[5.17,2.53],[5.29,2.5],
  [4.43,2.2],[4.48,2.25],[4.53,2.18],[4.58,2.22],[4.63,2.15],[4.68,2.2],[4.73,2.13],[4.78,2.18],[4.83,2.1],[4.88,2.15],[4.93,2.08],[4.98,2.12],[5.03,2.05],[5.1,2.09],
  [3.88,1.85],[3.94,1.69],[4.02,1.54],[4.08,1.9],[4.18,1.71],[4.28,1.56],[4.33,1.8],[4.42,1.7],[4.48,1.9],[4.53,1.62],[4.6,1.53],[4.66,1.95],[4.74,1.64],[4.82,1.74],[4.9,1.92],[4.98,1.55],[5.08,1.68],[5.18,1.78],[5.28,1.7],[5.36,1.94],
  [4.1,1.42],[4.3,1.45],[4.5,1.48],[4.65,1.4],[4.85,1.46],[5.05,1.42],[5.25,1.45],[5.35,1.4]];

// axis ranges per panel
const xRange1 = [-0.1, 4.62], yRange1 = [1.04, 3.84];
const xRange2 = [-0.1, 4.62], yRange2 = [-0.055, 2.615];
const xRange3 = [-0.135, 6.14], yRange3 = [-0.054, 2.713];
const xRange4 = [-0.137, 6.14], yRange4 = [-1.27, 2.89];

const NAVY = '#16166c';
const DOT = 'rgba(30,30,140,0.9)';

const toXY = arr => arr.map(p => ({x: p[0], y: p[1]}));
const curve = arr => ({data: toXY(arr), showLine: true, borderColor: NAVY, borderWidth: 4.2,
  pointRadius: 0, cubicInterpolationMode: 'monotone', fill: false});
const dots = (arr, r) => ({data: toXY(arr), showLine: false, pointRadius: r, pointBorderWidth: 0,
  backgroundColor: DOT, borderColor: DOT});

// frame with inward ticks on all four sides, like the original
const frameTicks = {
  id: 'frameTicks',
  afterDraw(chart, args, o) {
    const {ctx, chartArea: a, scales} = chart;
    const xs = scales.x, ys = scales.y;
    ctx.save();
    ctx.strokeStyle = '#8a8a8a';
    ctx.lineWidth = 1.2;
    ctx.strokeRect(a.left + 0.5, a.top + 0.5, a.right - a.left, a.bottom - a.top);
    ctx.lineWidth = 1;
    const marks = (scale, step) => {
      const out = [];
      const n0 = Math.ceil(scale.min / step), n1 = Math.floor(scale.max / step);
      for (let i = n0; i <= n1; i++) out.push(+(i * step).toFixed(4));
      return out;
    };
    const majX = xs.ticks.map(t => t.value), majY = ys.ticks.map(t => t.value);
    ctx.beginPath();
    marks(xs, o.xMinor).forEach(v => {
      const px = Math.round(xs.getPixelForValue(v)) + 0.5;
      const len = majX.some(m => Math.abs(m - v) < 1e-6) ? 6 : 3.5;
      ctx.moveTo(px, a.bottom); ctx.lineTo(px, a.bottom - len);
      ctx.moveTo(px, a.top); ctx.lineTo(px, a.top + len);
    });
    marks(ys, o.yMinor).forEach(v => {
      const py = Math.round(ys.getPixelForValue(v)) + 0.5;
      const len = majY.some(m => Math.abs(m - v) < 1e-6) ? 6 : 3.5;
      ctx.moveTo(a.left, py); ctx.lineTo(a.left + len, py);
      ctx.moveTo(a.right, py); ctx.lineTo(a.right - len, py);
    });
    ctx.stroke();
    if (o.zero) {
      const pz = Math.round(ys.getPixelForValue(0)) + 0.5;
      ctx.strokeStyle = '#666';
      ctx.lineWidth = 1.3;
      ctx.beginPath(); ctx.moveTo(a.left, pz); ctx.lineTo(a.right, pz); ctx.stroke();
    }
    ctx.restore();
  }
};

Chart.defaults.font.family = "'Liberation Serif', serif";
Chart.defaults.font.size = 16;
Chart.defaults.color = '#1a1a1a';

function panel(id, cfg) {
  new Chart(document.getElementById(id), {
    type: 'scatter',
    data: {datasets: cfg.sets},
    plugins: [frameTicks],
    options: {
      responsive: false,
      animation: false,
      devicePixelRatio: 1,
      layout: {padding: {top: cfg.pad[0], right: cfg.pad[1], bottom: 0, left: 0}},
      plugins: {legend: {display: false}, tooltip: {enabled: false},
        frameTicks: {xMinor: 0.2, yMinor: cfg.yMinor, zero: !!cfg.zero}},
      scales: {
        x: {
          type: 'linear', min: cfg.xr[0], max: cfg.xr[1],
          grid: {display: false, drawTicks: false}, border: {display: false},
          ticks: {stepSize: 1, includeBounds: false, autoSkip: false, padding: cfg.xPad,
            callback: v => String(v)},
          afterFit: s => { s.height = cfg.xH; }
        },
        y: {
          type: 'linear', min: cfg.yr[0], max: cfg.yr[1],
          grid: {display: false, drawTicks: false}, border: {display: false},
          ticks: {stepSize: cfg.yStep, includeBounds: false, autoSkip: false, padding: cfg.yPad,
            callback: cfg.yFmt},
          afterFit: s => { s.width = cfg.yW; }
        }
      }
    }
  });
}

const oneDec = v => v.toFixed(1);

panel('c1', {xr: xRange1, yr: yRange1, yStep: 0.5, yMinor: 0.1, yFmt: oneDec,
  pad: [23, 22], xH: 44, yW: 35, xPad: 5, yPad: 6,
  sets: [curve(q1Branch), curve(q1Upper), curve(q1Lower), curve(q1Bottom),
    dots(q1Dots, 1.5), dots(q1Cloud, 1.15), dots(q1CloudB, 1.15), dots(q1CloudLow, 1.15)]});

panel('c2', {xr: xRange2, yr: yRange2, yStep: 0.5, yMinor: 0.1, yFmt: oneDec,
  pad: [24, 7], xH: 41, yW: 38, xPad: 4, yPad: 6,
  sets: [curve(q2Branch), curve(q2Upper), curve(q2Lower), curve(q2Cross),
    dots(q2Dots, 1.5), dots(q2Cloud, 1.15), dots(q2CloudB, 1.15)]});

panel('c3', {xr: xRange3, yr: yRange3, yStep: 0.5, yMinor: 0.1, yFmt: oneDec,
  pad: [25, 24], xH: 51, yW: 34, xPad: 9, yPad: 3,
  sets: [curve(q3Branch), curve(q3Upper), curve(q3Lower), curve(q3Cross),
    curve(q3Right1), curve(q3Right2), curve(q3Right3), curve(q3Right4),
    dots(q3Dots, 1.5), dots(q3Cloud, 1.15), dots(q3CloudB, 1.15)]});

panel('c4', {xr: xRange4, yr: yRange4, yStep: 1, yMinor: 0.2, yFmt: v => String(v), zero: true,
  pad: [27, 10], xH: 51, yW: 38, xPad: 7, yPad: 5,
  sets: [curve(q4Branch), curve(q4Upper), curve(q4Lower), curve(q4Cross),
    curve(q4Right1), curve(q4Right2), curve(q4Right3), curve(q4Right4),
    dots(q4Dots, 1.5), dots(q4Cloud, 1.15), dots(q4CloudB, 1.15)]});
</script>
</body>
</html>
